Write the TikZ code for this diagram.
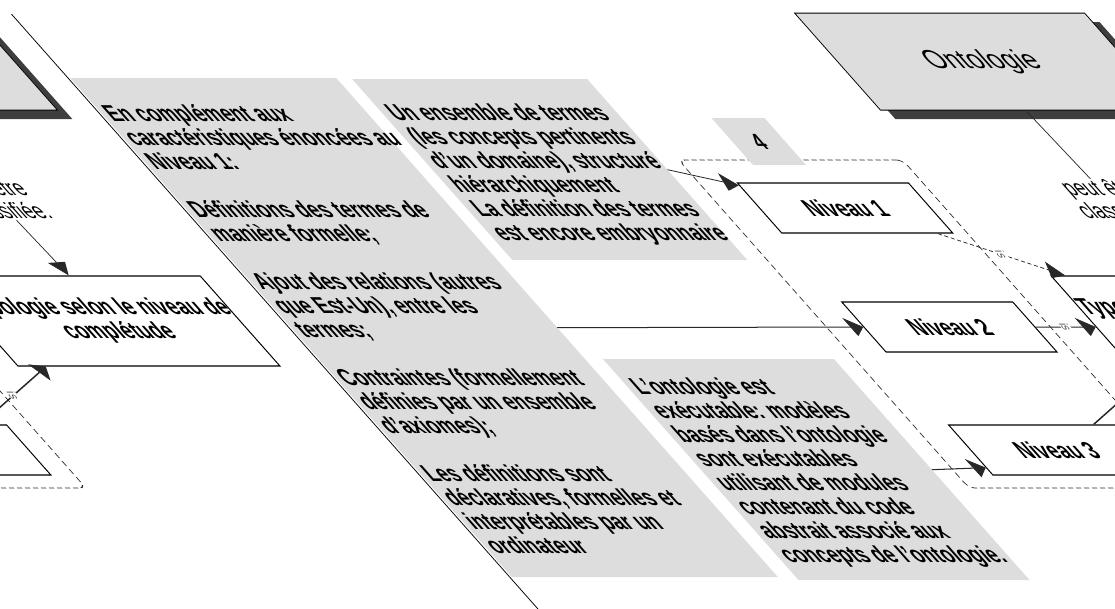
\documentclass[tikz,border=0pt]{standalone}
\usepackage{fontspec}
\setmainfont{Liberation Sans}[FakeStretch=0.835]
\newfontfamily\headfont{Liberation Sans}
\usetikzlibrary{arrows.meta,calc}
\definecolor{panelgray}{RGB}{221,221,221}
\definecolor{shadowgray}{RGB}{62,62,62}
\definecolor{wiregray}{RGB}{40,40,40}
\begin{document}
\begin{tikzpicture}[x=1pt,y=-1pt,
  bodytext/.style={font=\fontsize{23}{24}\selectfont\bfseries, align=left, anchor=north west, inner sep=0pt},
  panel/.style={fill=panelgray, draw=none, inner sep=0pt, anchor=north west},
  levelbox/.style={draw=black, line width=1.3pt, fill=white, minimum width=171pt, minimum height=50pt, inner sep=0pt, font=\fontsize{23}{24}\selectfont\bfseries},
  typebox/.style={draw=black, line width=1.3pt, fill=white, minimum width=262pt, minimum height=90pt, inner sep=0pt, align=center, font=\fontsize{23}{24}\selectfont\bfseries},
  rootbox/.style={draw=black, line width=1pt, fill=panelgray, minimum width=290pt, minimum height=97pt, inner sep=0pt, font=\headfont\fontsize{26}{28}\selectfont},
  rootshadow/.style={fill=shadowgray, draw=none, minimum width=290pt, minimum height=97pt, inner sep=0pt},
  group/.style={draw=wiregray, dash pattern=on 5pt off 3pt, line width=0.9pt, rounded corners=6pt, minimum width=224pt, minimum height=328pt, inner sep=0pt},
  tabbox/.style={fill=panelgray, minimum width=53pt, minimum height=47pt, inner sep=0pt, font=\fontsize{22}{24}\selectfont\bfseries},
  link/.style={draw=wiregray, line width=1pt, -{Triangle[length=13pt,width=18pt]}},
  edgetag/.style={font=\fontsize{22}{23}\selectfont, fill=white, inner sep=1pt, align=center},
  smalltag/.style={font=\fontsize{12}{13}\selectfont, rotate=-90, fill=white, inner sep=0.5pt, text=wiregray!80},
]
\useasboundingbox (0,0) rectangle (1115,608);
\clip (0,0) rectangle (1115,608);
\begin{scope}[transform canvas={xslant=-0.885}]
  % description panels
  \node[panel, minimum width=266pt, minimum height=499pt] (pA) at (1,78) {};
  \node[panel, minimum width=235pt, minimum height=181pt] (pB) at (282,79) {};
  \node[panel, minimum width=231pt, minimum height=221pt] (pC) at (285,359) {};
  \coordinate (rimtop) at (-1,14);
  \coordinate (rimbot) at (-1,640);
  \draw[line width=1pt] (rimtop) -- (rimbot);
  \node[bodytext] (tA) at (6,104) {En complément aux\\caractéristiques énoncées au\\Niveau 1:\\[24pt]Définitions des termes de\\manière formelle;\\[24pt]Ajout des relations  (autres\\que Est-Un), entre les\\termes;\\[24pt]Contraintes (formellement\\définies par un ensemble\\d'axiomes);\\[24pt]Les définitions sont\\déclaratives, formelles et\\interprétables par un\\ordinateur};
  \node[bodytext] (tB) at (289,104) {Un ensemble de termes\\(les concepts  pertinents\\d'un domaine), structuré\\hiérarchiquement\\La définition des termes\\est encore embryonnaire};
  \node[bodytext] (tC) at (291,378) {L'ontologie est\\exécutable: modèles\\basés dans l'ontologie\\sont exécutables\\utilisant de modules\\contenant du code\\abstrait associé aux\\concepts de l'ontologie.};

  % left-hand repetition of the classification
  \node[rootshadow] at (-178,70.5) {};
  \node[rootbox] (ontoL) at (-185,61.5) {};
  \node[group] (grpL) at (-458,324) {};
  \node[levelbox] (n3L) at (-455,450) {};
  \node[typebox] (typoL) at (-175,321) {Typologie selon le niveau de\\complétude};
  \draw[link] (ontoL.south) -- node[edgetag, pos=0.54] {peut être\\classifiée.} (typoL.north);
  \draw[link] ($(n3L.north east)+(-26,0)$) -- node[smalltag] {is} ($(typoL.south west)+(28,0)$);

  % right-hand classification
  \node[rootshadow] at (935,70.5) {};
  \node[rootbox] (onto) at (928,61.5) {Ontologie};
  \node[group] (grp) at (649,324) {};
  \node[tabbox] (tab) at (633.5,141.5) {4};
  \node[levelbox] (n1) at (661,208) {Niveau 1};
  \node[levelbox] (n2) at (660,327) {Niveau 2};
  \node[levelbox] (n3) at (658,450) {Niveau 3};
  \node[typebox] (typo) at (938,321) {Typologie selon le niveau de\\complétude};
  \draw[link] (onto.south) -- node[edgetag, pos=0.54] {peut être\\classifiée.} (typo.north);

  % descriptions attached to the levels
  \draw[link] (pA.east) -- (n2.west);
  \draw[link] (pB.east) -- ($(n1.north west)+(0,3)$);
  \draw[link] (pC.east) -- ($(n3.south west)+(0,-8)$);

  % levels belonging to the typology
  \draw[link, dash pattern=on 3pt off 2pt] ($(n1.south east)+(-16,0)$) -- node[smalltag] {is} ($(typo.north west)+(15,0)$);
  \draw[link] (n2.east) -- node[smalltag] {is} (n2.east -| typo.west);
  \draw[link] ($(n3.north east)+(-26,0)$) -- node[smalltag] {is} ($(typo.south west)+(28,0)$);
\end{scope}
\end{tikzpicture}
\end{document}
